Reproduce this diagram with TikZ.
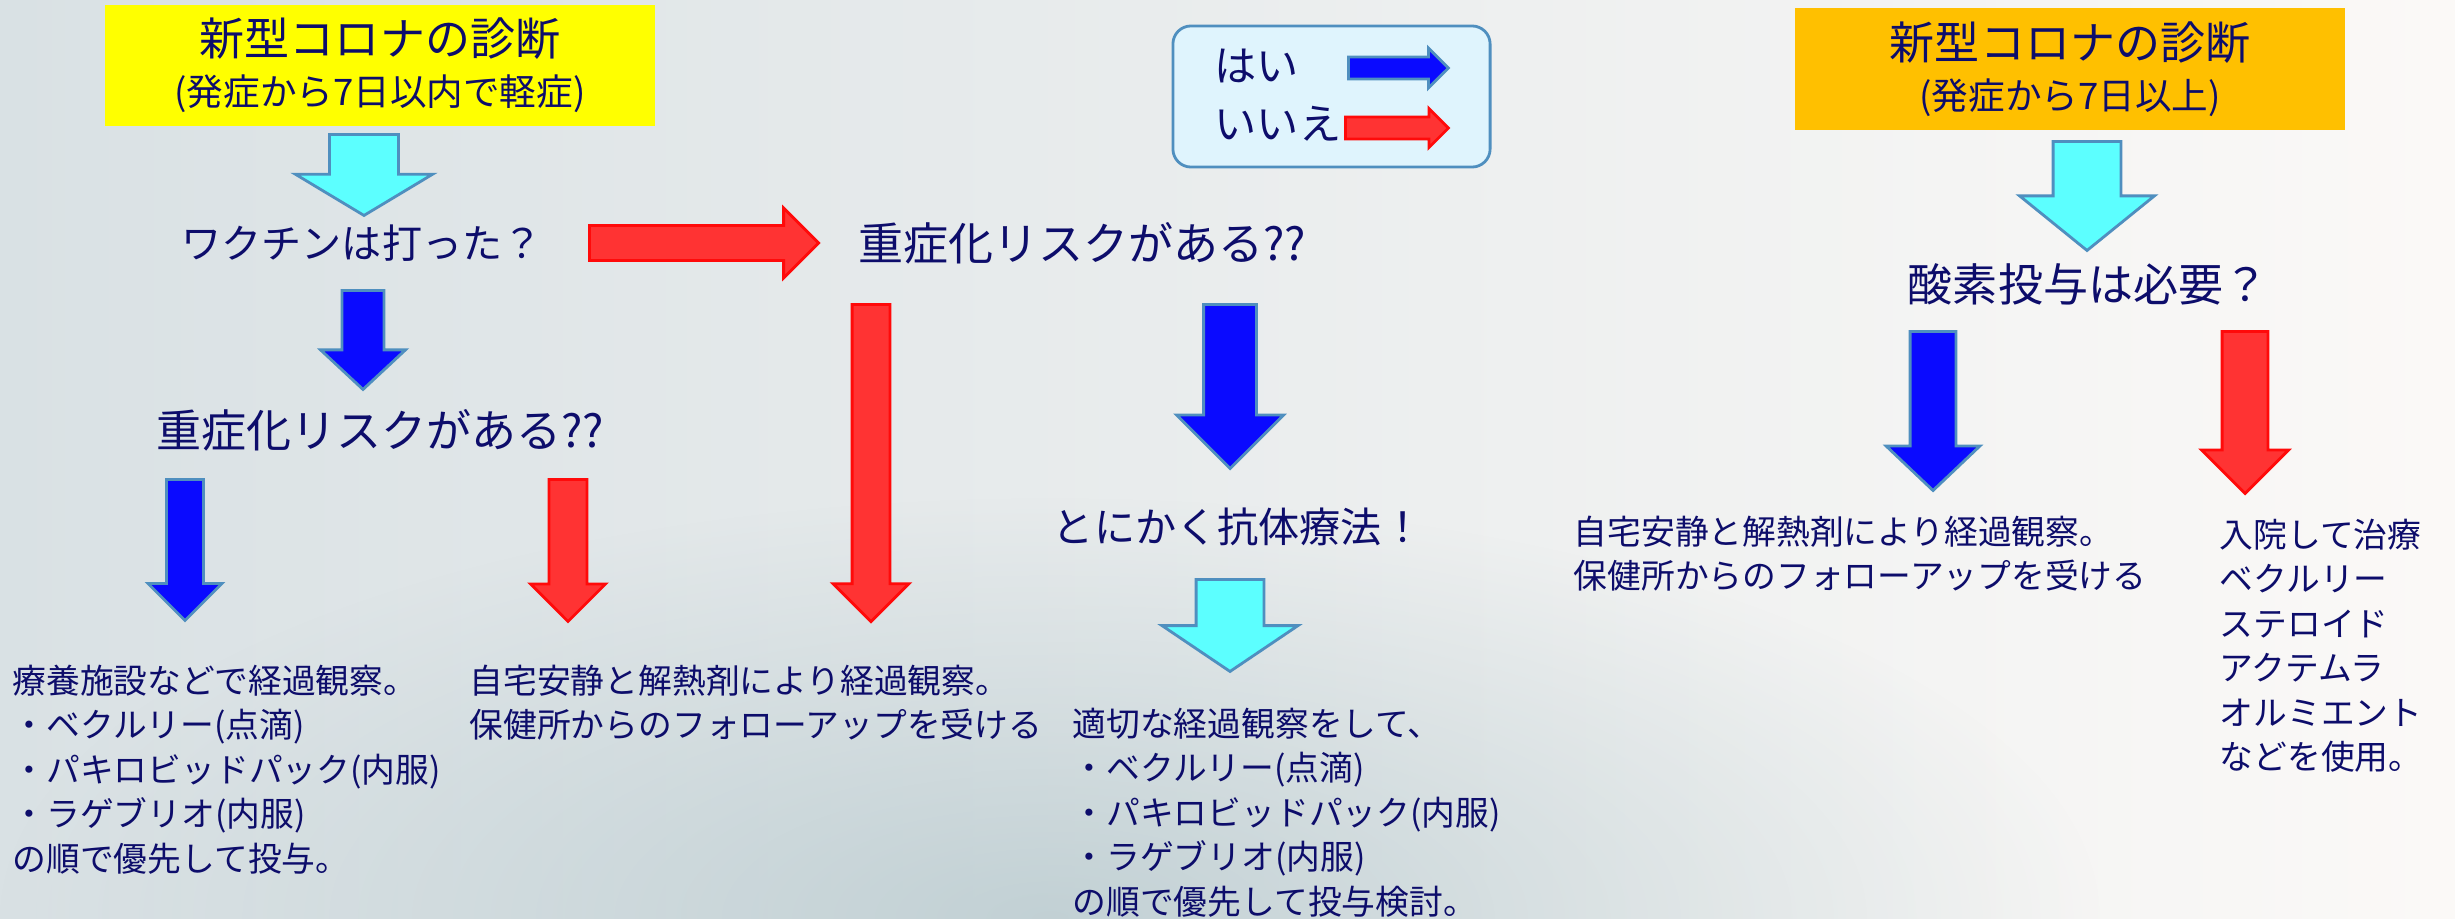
\documentclass[tikz,border=0pt]{standalone}
\usepackage{fontspec}
\newfontfamily\jp{Noto Sans CJK JP}
\usetikzlibrary{shapes.arrows,fadings}

\definecolor{navy}{HTML}{0D0D6B}
\definecolor{bgleft}{HTML}{D9E1E4}
\definecolor{bgright}{HTML}{FBF9F7}
\definecolor{bgdeep}{HTML}{A9BFC5}
\definecolor{titleyellow}{HTML}{FFFF00}
\definecolor{titleorange}{HTML}{FFC000}
\definecolor{legendfill}{HTML}{DFF4FD}
\definecolor{edgeblue}{HTML}{4F8FBF}
\definecolor{yesblue}{HTML}{0A0AFF}
\definecolor{nored}{HTML}{FF3333}
\definecolor{edgered}{HTML}{FF0A0A}
\definecolor{nextcyan}{HTML}{5CFFFF}

\tikzfading[name=softblob, inner color=transparent!0, outer color=transparent!100]

\begin{document}
\begin{tikzpicture}[x=0.01cm, y=-0.01cm,
        every node/.style={font=\jp, text=navy},
        question/.style={font=\jp\fontsize{12.8}{15}\selectfont, inner sep=0},
        body/.style={font=\jp\fontsize{9.6}{12.66}\selectfont, align=left, anchor=north west, inner sep=0},
        titlebox/.style={minimum width=5.5cm, minimum height=1.21cm, align=center, inner sep=0,
                font=\jp\fontsize{10.4}{14.2}\selectfont},
        legendbox/.style={draw=edgeblue, fill=legendfill, line width=0.8pt, rounded corners=0.18cm,
                minimum width=3.17cm, minimum height=1.41cm},
        blockarrow/.style={single arrow, draw, line width=0.8pt, inner xsep=0, anchor=tail},
        down/.style={blockarrow, rotate=-90},
        yesarrow/.style={fill=yesblue, draw=edgeblue},
        noarrow/.style={fill=nored, draw=edgered},
        nextarrow/.style={fill=nextcyan, draw=edgeblue}]

    \useasboundingbox (0,0) rectangle (2455,918);
    \fill[left color=bgleft, right color=bgright] (0,0) rectangle (2455,918);
    \fill[bgdeep, opacity=0.6, path fading=softblob] (1050,918) ellipse (1050 and 420);

    % left half: within 7 days
    \node[titlebox, fill=titleyellow] (early) at (380,65.5)
        {{\fontsize{12.8}{14.2}\selectfont 新型コロナの診断}\\(発症から7日以内で軽症)};
    \node[down, nextarrow, minimum height=0.81cm, inner ysep=0.33cm,
        single arrow head extend=0.34cm, single arrow tip angle=118] (toVaccine) at (364,133) {};
    \node[question, font=\jp\fontsize{11.4}{14}\selectfont] (vaccine) at (362,243) {ワクチンは打った？};
    \node[blockarrow, noarrow, minimum height=2.29cm, inner ysep=0.16cm,
        single arrow head extend=0.175cm] (noVaccine) at (588,243) {};
    \node[down, yesarrow, minimum height=0.99cm, inner ysep=0.195cm,
        single arrow head extend=0.215cm, single arrow tip angle=94] (yesVaccine) at (363,289) {};
    \node[question] (riskA) at (380,430) {重症化リスクがある??};
    \node[down, yesarrow, minimum height=1.41cm, inner ysep=0.17cm,
        single arrow head extend=0.185cm] (yesRiskA) at (185,478) {};
    \node[down, noarrow, minimum height=1.42cm, inner ysep=0.175cm,
        single arrow head extend=0.185cm] (noRiskA) at (568,478) {};
    \node[body] (facility) at (12,664)
        {療養施設などで経過観察。\\・ベクルリー(点滴)\\・パキロビッドパック(内服)\\・ラゲブリオ(内服)\\の順で優先して投与。};
    \node[body] (homeA) at (469,664)
        {自宅安静と解熱剤により経過観察。\\保健所からのフォローアップを受ける};

    % middle: not vaccinated
    \node[question] (riskB) at (1082,243) {重症化リスクがある??};
    \node[down, noarrow, minimum height=3.17cm, inner ysep=0.175cm,
        single arrow head extend=0.19cm] (noRiskB) at (871,303) {};
    \node[down, yesarrow, minimum height=1.64cm, inner ysep=0.25cm,
        single arrow head extend=0.27cm] (yesRiskB) at (1230,303) {};
    \node[question, font=\jp\fontsize{11.7}{14}\selectfont] (antibody) at (1238,527) {とにかく抗体療法！};
    \node[down, nextarrow, minimum height=0.92cm, inner ysep=0.325cm,
        single arrow head extend=0.34cm, single arrow tip angle=112] (toWatch) at (1230,578) {};
    \node[body] (watch) at (1072,707)
        {適切な経過観察をして、\\・ベクルリー(点滴)\\・パキロビッドパック(内服)\\・ラゲブリオ(内服)\\の順で優先して投与検討。};

    % legend
    \node[legendbox] (legend) at (1331.5,96.5) {};
    \node[anchor=west, inner sep=0, font=\jp\fontsize{12}{14}\selectfont] (yes) at (1214,66) {はい};
    \node[anchor=west, inner sep=0, font=\jp\fontsize{12}{14}\selectfont] (no) at (1214,124) {いいえ};
    \node[blockarrow, yesarrow, minimum height=1cm, inner ysep=0.095cm,
        single arrow head extend=0.09cm] (yesKey) at (1347,68) {};
    \node[blockarrow, noarrow, minimum height=1.03cm, inner ysep=0.095cm,
        single arrow head extend=0.085cm] (noKey) at (1344,128) {};

    % right: 7 days or more
    \node[titlebox, fill=titleorange] (late) at (2070,69)
        {{\fontsize{12.8}{14.2}\selectfont 新型コロナの診断}\\(発症から7日以上)};
    \node[down, nextarrow, minimum height=1.09cm, inner ysep=0.325cm,
        single arrow head extend=0.335cm, single arrow tip angle=102] (toOxygen) at (2087,140) {};
    \node[question] (oxygen) at (2088,284) {酸素投与は必要？};
    \node[down, yesarrow, minimum height=1.59cm, inner ysep=0.215cm,
        single arrow head extend=0.24cm, single arrow tip angle=93] (yesOxygen) at (1933,330) {};
    \node[down, noarrow, minimum height=1.62cm, inner ysep=0.215cm,
        single arrow head extend=0.205cm] (noOxygen) at (2245,330) {};
    \node[body] (homeB) at (1573,515)
        {自宅安静と解熱剤により経過観察。\\保健所からのフォローアップを受ける};
    \node[body] (hospital) at (2219,518)
        {入院して治療\\ベクルリー\\ステロイド\\アクテムラ\\オルミエント\\などを使用。};
\end{tikzpicture}
\end{document}
